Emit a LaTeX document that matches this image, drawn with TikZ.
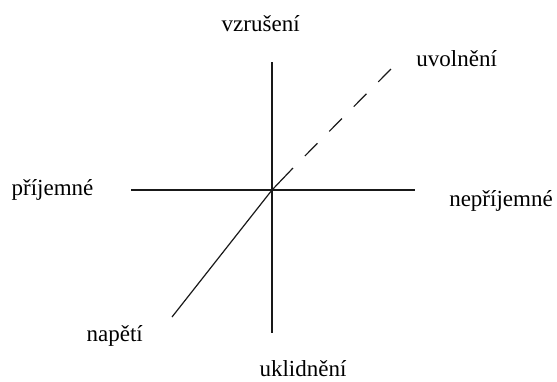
\documentclass[tikz,border=0pt]{standalone}
\usepackage{fontspec}
\setmainfont{Liberation Serif}
\usepackage{tikz}

\begin{document}
\begin{tikzpicture}[
  x=1pt, y=-1pt,
  lbl/.style={font=\fontsize{23}{27}\selectfont, anchor=base, inner sep=0pt},
  axis/.style={line width=1.2pt, black!90},
  dashaxis/.style={axis, dash pattern=on 18pt off 16.8pt, dash phase=18pt},
]
  \useasboundingbox (0,0) rectangle (557,381);

  % axes
  \coordinate (top)    at (272,62);
  \coordinate (bottom) at (272,333);
  \coordinate (left)   at (131,190);
  \coordinate (right)  at (415,190);
  \coordinate (o)      at (272,190);
  \coordinate (tenseend) at (172,317);
  \coordinate (bend)   at (293,168);
  \coordinate (relaxend) at (391,69);

  \node[lbl] (arousal)  at (260.7,31.7)  {vzrušení};
  \node[lbl] (relax)    at (456.7,66.7)  {uvolnění};
  \node[lbl] (pleasant) at (52.5,195)    {příjemné};
  \node[lbl] (unpleas)  at (501,206.7)   {nepříjemné};
  \node[lbl] (tension)  at (114.7,341.7) {napětí};
  \node[lbl] (calm)     at (303,376.7)   {uklidnění};

  \draw[axis] (top) -- (bottom);
  \draw[axis] (left) -- (right);
  \draw[axis] (tenseend) -- (o) -- (bend);
  \draw[dashaxis] (bend) -- (relaxend);
\end{tikzpicture}
\end{document}
